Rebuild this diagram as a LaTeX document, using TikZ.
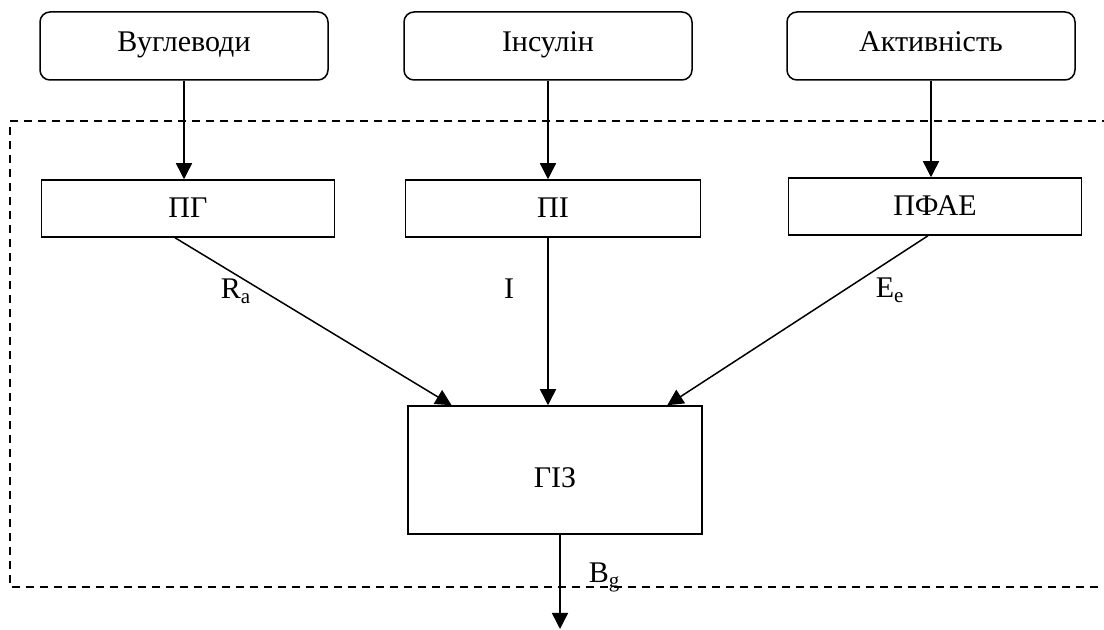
\documentclass[tikz,border=0pt]{standalone}
\usepackage{fontspec}
\setmainfont{Liberation Serif}
\usetikzlibrary{arrows.meta,calc}
\begin{document}
\begin{tikzpicture}[x=0.5pt,y=-0.5pt,
  font=\fontsize{15pt}{18pt}\selectfont,
  line width=0.75pt,
  topbox/.style={draw,rounded corners=5pt,minimum width=144pt,minimum height=34pt,inner sep=0pt,text height=10.5pt,text depth=4.5pt},
  midbox/.style={draw,minimum width=146.5pt,minimum height=28.5pt,inner sep=0pt,text height=11pt,text depth=2pt},
  arr/.style={-{Triangle[length=8pt,width=8pt]}},
  lbl/.style={inner sep=0pt},
  dashedframe/.style={dash pattern=on 4pt off 3pt}]
\useasboundingbox (0,0) rectangle (1104,630);
% dashed frame (open to the right)
\draw[dashedframe] (1110,121) -- (10,121) -- (10,587) -- (1110,587);
% top boxes
\node[topbox] (v) at (184,46) {Вуглеводи};
\node[topbox] (ins) at (548,46) {Інсулін};
\node[topbox] (act) at (931,46) {Активність};
% middle boxes
\node[midbox] (pg) at (188,208.5) {ПГ};
\node[midbox,minimum width=147.5pt] (pi) at (553,208.5) {ПІ};
\node[midbox] (pfae) at (935,206.5) {ПФАЕ};
% main box
\node[draw,minimum width=147pt,minimum height=64pt,inner sep=0pt,text height=20pt,text depth=2pt] (giz) at (555,470) {ГІЗ};
% connectors
\draw[arr] (v.south) -- (v.south |- pg.north);
\draw[arr] (ins.south) -- (ins.south |- pi.north);
\draw[arr] (act.south) -- (act.south |- pfae.north);
\coordinate (pgout) at ([xshift=-6.5pt]pg.south);
\coordinate (pfaeout) at ([xshift=-3.5pt]pfae.south);
\draw[arr] (pgout) -- ($(giz.north west)!0.15!(giz.north east)$);
\draw[arr] (ins.south |- pi.south) -- (ins.south |- giz.north);
\draw[arr] (pfaeout) -- ($(giz.north west)!0.88!(giz.north east)$);
\coordinate (out) at (560,629);
\draw[arr] ([xshift=2.5pt]giz.south) -- (out);
% labels
\node[lbl,anchor=base west] (ra) at (220,299) {R\textsubscript{a}};
\node[lbl,anchor=base] (il) at (509,299) {I};
\node[lbl,anchor=base west] (ee) at (875,298) {E\textsubscript{e}};
\node[lbl,anchor=base west] (bg) at (588,583) {B\textsubscript{g}};
\end{tikzpicture}
\end{document}
